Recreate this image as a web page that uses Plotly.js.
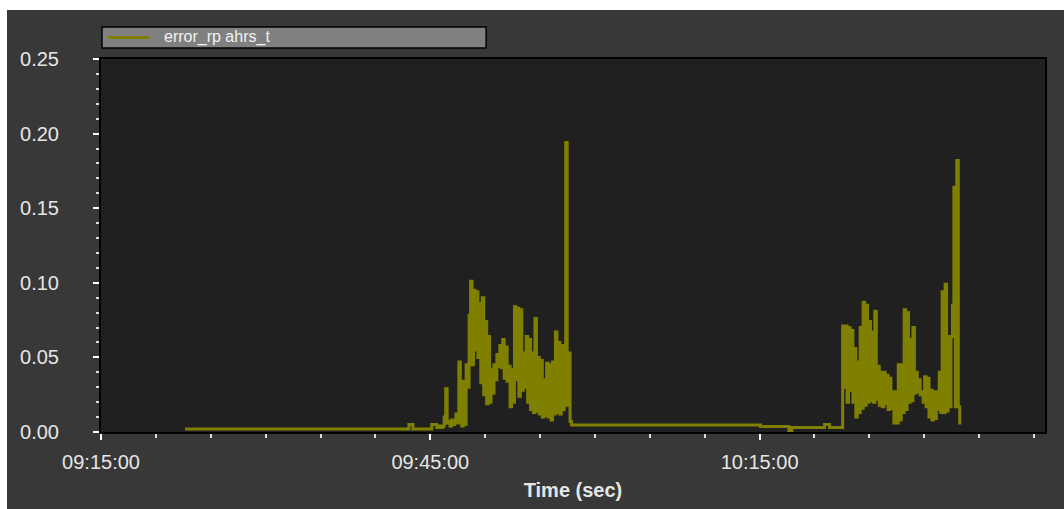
<!DOCTYPE html>
<html>
<head>
<meta charset="utf-8">
<script src="https://cdn.plot.ly/plotly-3.0.1.min.js"></script>
<style>
  html, body { margin: 0; padding: 0; background: #ffffff; width: 1064px; height: 509px; overflow: hidden; }
  #chart { position: absolute; left: 7px; top: 10px; width: 1057px; height: 499px; }
</style>
</head>
<body>
<div id="chart"></div>
<script>
// Roll/pitch error of the AHRS estimate over one logging session.
const seriesName = 'error_rp ahrs_t';
const sampleSeconds = 8;

// Quiet stretch before the first manoeuvre
const quietTimes = ['09:22:39', '09:43:03', '09:43:25', '09:45:08', '09:45:35'];
const quietValues = [0.002, 0.005, 0.002, 0.005, 0.003];

// First manoeuvre, sampled every sampleSeconds from burstAStart
const burstAStart = '09:45:52';
const burstAValues = [
  0.004, 0.003, 0.004, 0.010, 0.029, 0.006, 0.007, 0.004, 0.008, 0.005,
  0.008, 0.012, 0.006, 0.047, 0.030, 0.004, 0.034, 0.005, 0.045, 0.030,
  0.078, 0.101, 0.045, 0.095, 0.055, 0.094, 0.050, 0.086, 0.033, 0.090,
  0.025, 0.074, 0.019, 0.064, 0.020, 0.042, 0.026, 0.045, 0.035, 0.052,
  0.044, 0.058, 0.043, 0.062, 0.036, 0.057, 0.034, 0.044, 0.017, 0.042,
  0.020, 0.084, 0.035, 0.083, 0.024, 0.082, 0.028, 0.053, 0.030, 0.064,
  0.020, 0.062, 0.015, 0.053, 0.013, 0.076, 0.014, 0.050, 0.012, 0.048,
  0.010, 0.035, 0.011, 0.046, 0.010, 0.045, 0.008, 0.047, 0.012, 0.067,
  0.013, 0.060, 0.012, 0.058, 0.015, 0.048, 0.194, 0.018, 0.053, 0.007,
  0.0047
];

// Level flight between the two manoeuvres
const plateauTimes = ['09:58:00', '10:15:05', '10:17:40', '10:17:56', '10:20:55', '10:21:22'];
const plateauValues = [0.0047, 0.0037, 0.001, 0.003, 0.005, 0.003];

// Second manoeuvre, sampled every sampleSeconds from burstBStart
const burstBStart = '10:22:34';
const burstBValues = [
  0.071, 0.030, 0.071, 0.020, 0.070, 0.028, 0.068, 0.020, 0.056, 0.010,
  0.047, 0.013, 0.070, 0.016, 0.087, 0.018, 0.085, 0.020, 0.074, 0.021,
  0.067, 0.020, 0.081, 0.022, 0.044, 0.018, 0.040, 0.017, 0.040, 0.019,
  0.038, 0.015, 0.036, 0.016, 0.027, 0.006, 0.027, 0.006, 0.045, 0.008,
  0.045, 0.013, 0.082, 0.015, 0.080, 0.020, 0.062, 0.021, 0.070, 0.026,
  0.040, 0.027, 0.035, 0.025, 0.027, 0.020, 0.037, 0.017, 0.036, 0.010,
  0.028, 0.008, 0.027, 0.009, 0.027, 0.015, 0.040, 0.013, 0.094, 0.013,
  0.099, 0.014, 0.064, 0.017, 0.064, 0.085, 0.164, 0.017, 0.182, 0.017,
  0.006, 0.006
];

// Axis extent and ticks
const axisStart = '09:15:00';
const axisEnd = '10:41:00';
const yRange = [0, 0.25];

function toMs(hms) {
  const p = hms.split(':').map(Number);
  return Date.UTC(2024, 0, 1, p[0], p[1], p[2]);
}
function sampled(start, values) {
  const t0 = toMs(start);
  return values.map((_, i) => t0 + i * sampleSeconds * 1000);
}

const x = [].concat(
  quietTimes.map(toMs),
  sampled(burstAStart, burstAValues),
  plateauTimes.map(toMs),
  sampled(burstBStart, burstBValues)
);
const y = [].concat(quietValues, burstAValues, plateauValues, burstBValues);

const olive = '#808000';
const labelColor = '#e6e6e6';
const font = 'Arial, "Liberation Sans", sans-serif';

const trace = {
  type: 'scatter',
  mode: 'lines',
  name: seriesName,
  x: x,
  y: y,
  line: { color: olive, width: 3, shape: 'hv' },
  showlegend: false
};

// Legend box above the plot, drawn in paper coordinates
const legendBox = { x0: 0.001, x1: 0.408, y0: 1.0295, y1: 1.0858 };
const legendMidY = (legendBox.y0 + legendBox.y1) / 2;

const layout = {
  width: 1057,
  height: 499,
  paper_bgcolor: '#383838',
  plot_bgcolor: '#202020',
  margin: { l: 94, r: 19, t: 49, b: 77 },
  font: { family: font, color: labelColor, size: 20 },
  showlegend: false,
  shapes: [
    {
      type: 'rect', xref: 'paper', yref: 'paper',
      x0: legendBox.x0, x1: legendBox.x1, y0: legendBox.y0, y1: legendBox.y1,
      fillcolor: '#808080', line: { color: '#000000', width: 1.5 }
    },
    {
      type: 'line', xref: 'paper', yref: 'paper',
      x0: 0.0074, x1: 0.0508, y0: legendMidY, y1: legendMidY,
      line: { color: olive, width: 3 }
    }
  ],
  annotations: [
    {
      xref: 'paper', yref: 'paper', x: 0.0646, y: legendMidY,
      xanchor: 'left', yanchor: 'middle', showarrow: false,
      text: seriesName,
      font: { family: font, size: 16, color: '#f2f2f2' }
    }
  ],
  xaxis: {
    type: 'date',
    range: [toMs(axisStart), toMs(axisEnd)],
    tick0: toMs(axisStart),
    dtick: 30 * 60 * 1000,
    tickformat: '%H:%M:%S',
    ticks: 'outside',
    ticklen: 6,
    tickwidth: 2,
    tickcolor: '#ffffff',
    ticklabelstandoff: 5,
    minor: { dtick: 5 * 60 * 1000, ticks: 'outside', ticklen: 4, tickwidth: 2, tickcolor: '#dddddd' },
    showgrid: false,
    zeroline: false,
    showline: true,
    linecolor: '#000000',
    linewidth: 2,
    mirror: true,
    tickfont: { family: font, size: 20, color: labelColor },
    title: { text: '<b>Time (sec)</b>', standoff: 11, font: { family: font, size: 20, color: labelColor } },
    automargin: false
  },
  yaxis: {
    range: yRange,
    dtick: 0.05,
    tickformat: '.2f',
    ticks: 'outside',
    ticklen: 6,
    tickwidth: 2,
    tickcolor: '#ffffff',
    ticklabelstandoff: 30,
    minor: { dtick: 0.01, ticks: 'outside', ticklen: 3, tickwidth: 2, tickcolor: '#dddddd' },
    showgrid: false,
    zeroline: false,
    showline: true,
    linecolor: '#000000',
    linewidth: 2,
    mirror: true,
    tickfont: { family: font, size: 20, color: labelColor },
    automargin: false
  }
};

Plotly.newPlot('chart', [trace], layout, { staticPlot: true, displayModeBar: false });
</script>
</body>
</html>
